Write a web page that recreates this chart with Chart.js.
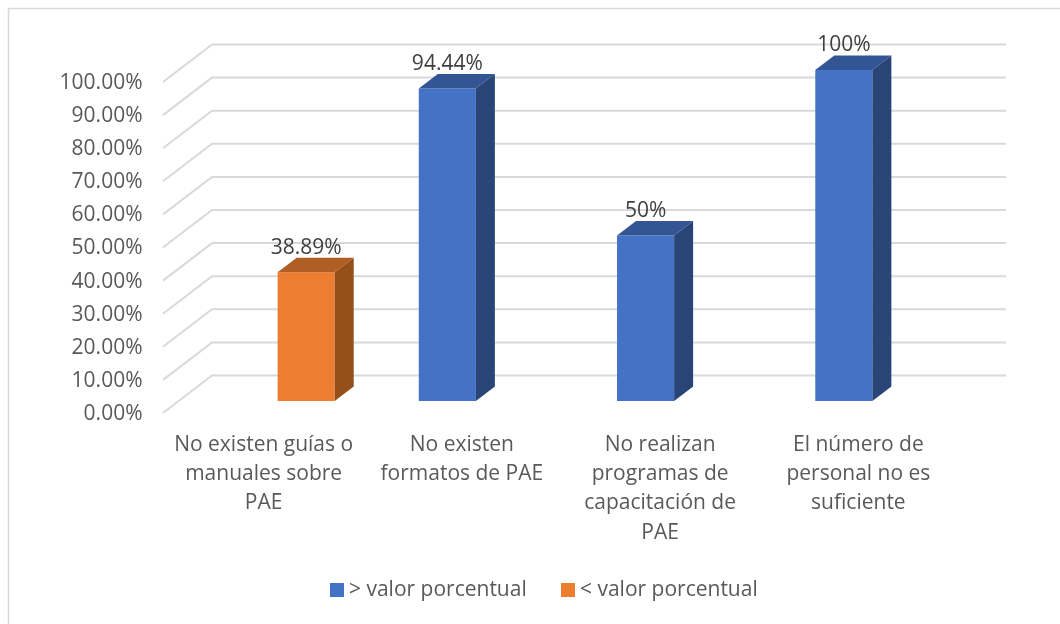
<!DOCTYPE html>
<html lang="en">
  <head>
    <meta charset="utf-8">
    <title>PAE</title>
    <script src="https://cdn.jsdelivr.net/npm/chart.js@4"></script>
    <style>
      html, body { margin: 0; padding: 0; background: #fff; overflow: hidden; }
      canvas { display: block; }
    </style>
  </head>
  <body>
    <canvas id="myChart" width="1060" height="624"></canvas>
    <script>
      const categories = [
        ['No existen guías o', 'manuales sobre', 'PAE'],
        ['No existen', 'formatos de PAE'],
        ['No realizan', 'programas de', 'capacitación de', 'PAE'],
        ['El número de', 'personal no es', 'suficiente']
      ];
      const mayorValues = [null, 94.44, 50, 100];
      const menorValues = [38.89, null, null, null];
      const dataLabels = ['38.89%', '94.44%', '50%', '100%'];
      const tickValues = [0, 10, 20, 30, 40, 50, 60, 70, 80, 90, 100];

      // the bars stand in the middle of the floor, the wall is further back
      const depth3d = { frontX: -15.5, frontY: 12, backX: 33.5, backY: -25.5, barX: 19, barY: -14.5 };

      const wall3d = {
        id: 'wall3d',
        beforeDatasetsDraw(chart) {
          const ctx = chart.ctx, area = chart.chartArea, y = chart.scales.y;
          ctx.save();
          ctx.strokeStyle = '#d9d9d9';
          ctx.lineWidth = 1.5;
          // outer frame, only top and left show in the picture
          ctx.beginPath();
          ctx.moveTo(8.5, 624);
          ctx.lineTo(8.5, 8.5);
          ctx.lineTo(1060, 8.5);
          ctx.stroke();
          ctx.lineWidth = 2;
          tickValues.forEach(v => {
            const py = y.getPixelForValue(v);
            ctx.beginPath();
            ctx.moveTo(area.left + depth3d.frontX, py + depth3d.frontY);
            ctx.lineTo(area.left + depth3d.backX, py + depth3d.backY);
            ctx.lineTo(area.right + depth3d.backX + 1, py + depth3d.backY);
            ctx.stroke();
          });
          ctx.restore();
        },
        afterDatasetsDraw(chart) {
          const ctx = chart.ctx;
          chart.data.datasets.forEach((ds, i) => {
            chart.getDatasetMeta(i).data.forEach((bar, j) => {
              if (ds.data[j] === null) return;
              const p = bar.getProps(['x', 'y', 'base', 'width']);
              const l = p.x - p.width / 2, r = p.x + p.width / 2;
              const dx = depth3d.barX, dy = depth3d.barY;
              ctx.fillStyle = ds.topColor;
              ctx.beginPath();
              ctx.moveTo(l, p.y);
              ctx.lineTo(l + dx, p.y + dy);
              ctx.lineTo(r + dx, p.y + dy);
              ctx.lineTo(r, p.y);
              ctx.closePath();
              ctx.fill();
              ctx.fillStyle = ds.sideColor;
              ctx.beginPath();
              ctx.moveTo(r, p.y);
              ctx.lineTo(r + dx, p.y + dy);
              ctx.lineTo(r + dx, p.base + dy);
              ctx.lineTo(r, p.base);
              ctx.closePath();
              ctx.fill();
              // value above the bar
              ctx.fillStyle = '#404040';
              ctx.font = '21px "Open Sans"';
              ctx.textAlign = 'center';
              ctx.textBaseline = 'middle';
              ctx.fillText(dataLabels[j], p.x, p.y - 24.5);
            });
          });
          // legend by hand, the built-in one leaves too wide a gap after the box
          ctx.font = '21px "Open Sans"';
          ctx.textAlign = 'left';
          ctx.textBaseline = 'middle';
          const boxX = [330, 561];
          chart.data.datasets.forEach((ds, i) => {
            ctx.fillStyle = ds.backgroundColor;
            ctx.fillRect(boxX[i], 583, 14, 14);
            ctx.fillStyle = '#595959';
            ctx.fillText(ds.label, boxX[i] + 19, 590);
          });
        }
      };

      new Chart(document.getElementById('myChart'), {
        type: 'bar',
        data: {
          labels: categories,
          datasets: [
            { label: '> valor porcentual', data: mayorValues, backgroundColor: '#4472c4', topColor: '#335593', sideColor: '#294577' },
            { label: '< valor porcentual', data: menorValues, backgroundColor: '#ed7d31', topColor: '#b15e25', sideColor: '#955019' }
          ]
        },
        options: {
          responsive: false,
          animation: false,
          categoryPercentage: 0.576,
          barPercentage: 1,
          layout: { padding: { top: 70, right: 88.5, left: 0, bottom: 0 } },
          plugins: {
            tooltip: { enabled: false },
            legend: { display: false }
          },
          scales: {
            x: {
              grid: { display: false },
              border: { display: false },
              afterFit(s) { s.height = 223; },
              ticks: {
                maxRotation: 0,
                autoSkip: false,
                padding: 21,
                labelOffset: -14,
                color: '#595959',
                font: { family: 'Open Sans', size: 21, lineHeight: 1.4 }
              }
            },
            y: {
              min: 0,
              max: 100,
              grid: { display: false },
              border: { display: false },
              afterFit(s) { s.width = 178.5; },
              afterBuildTicks(s) { s.ticks = tickValues.map(v => ({ value: v })); },
              ticks: {
                padding: 28,
                labelOffset: 13,
                color: '#595959',
                font: { family: 'Open Sans', size: 21 },
                callback: v => v.toFixed(2) + '%'
              }
            }
          }
        },
        plugins: [wall3d]
      });
    </script>
  </body>
</html>
